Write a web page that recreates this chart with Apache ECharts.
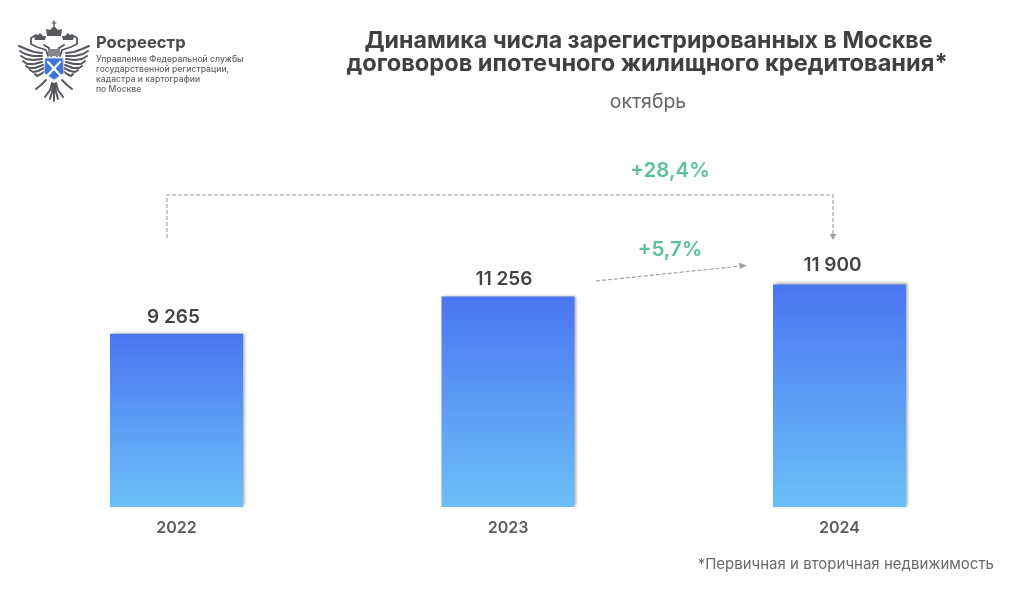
<!DOCTYPE html>
<html><head><meta charset="utf-8">
<style>html,body{margin:0;padding:0;background:#fff}#c{width:1024px;height:597px}</style>
<script src="https://cdn.jsdelivr.net/npm/echarts@6/dist/echarts.min.js"></script>
</head><body><div id="c"></div>
<script>
const categories = ['2022', '2023', '2024'];
const valueLabels = ['9 265', '11 256', '11 900'];
const values = [9265, 11256, 11900];
const titleLines = ['Динамика числа зарегистрированных в Москве', 'договоров ипотечного жилищного кредитования*'];
const subtitle = 'октябрь';
const footnote = '*Первичная и вторичная недвижимость';
const growthTotal = '+28,4%';
const growthYear = '+5,7%';
const orgName = 'Росреестр';
const orgLines = ['Управление Федеральной службы', 'государственной регистрации,', 'кадастра и картографии', 'по Москве'];
const labelShift = [[-3, 0], [-4, -1], [-7, -3]];

const FONT = 'Inter';
const chart = echarts.init(document.getElementById('c'), null, {renderer: 'canvas'});

function txt(x, y, text, size, weight, color, align) {
  return {type: 'text', x, y, silent: true, style: {text, fontSize: size, fontWeight: weight, fontFamily: FONT, fill: color, align: align || 'center', verticalAlign: 'middle'}};
}
function dash(points) {
  return {type: 'polyline', silent: true, shape: {points}, style: {stroke: '#a3a3a3', lineWidth: 1.2, lineDash: [4, 2], fill: null}};
}
function tri(points, fill) {
  return {type: 'polygon', silent: true, shape: {points}, style: {fill: fill || '#a3a3a3'}};
}
const ink = '#55585c';
const AXIS = 108;
function stroke(pts, w, color) {
  return {type: 'polyline', silent: true, shape: {points: pts}, style: {stroke: color || ink, lineWidth: w, fill: null, lineCap: 'round', lineJoin: 'round'}};
}
function both(pts, w) {
  return [stroke(pts, w), stroke(pts.map(p => [AXIS - p[0], p[1]]), w)];
}
function bothFill(pts) {
  return [tri(pts, ink), tri(pts.map(p => [AXIS - p[0], p[1]]), ink)];
}
const emblem = [
  // wing feathers
  ...both([[42, 53], [34, 52], [26, 49], [19, 46]], 2),
  ...both([[42, 56], [33, 56], [25, 54], [20, 51]], 2),
  ...both([[42, 59], [33, 60], [26, 59], [21, 56]], 2),
  ...both([[42, 62], [34, 64], [27, 64], [23, 61]], 2),
  ...both([[43, 65], [35, 68], [29, 68], [26, 66]], 2),
  ...both([[44, 68], [38, 71], [33, 72], [30, 70]], 2),
  ...both([[45, 71], [41, 74], [37, 76], [35, 74]], 2),
  // necks and heads
  ...both([[48, 56], [46, 50], [37, 47], [31, 44], [31, 38], [36, 35], [41, 38]], 1.8),
  ...both([[51, 56], [49, 48], [44, 45]], 2),
  ...bothFill([[35, 40], [45, 40], [46, 36], [43, 36], [40, 33], [37, 36], [34, 36]]),
  // centre crown
  tri([[47, 36], [61, 36], [62, 29], [58, 30], [54, 26], [50, 30], [46, 29]], ink),
  stroke([[54, 26], [54, 21]], 1.4),
  stroke([[52, 23], [56, 23]], 1.2),
  // band between heads
  tri([[48, 49], [60, 49], [60, 56], [48, 56]], '#85888b'),
  // legs and tail
  ...both([[46, 80], [41, 85], [36, 89]], 2),
  ...both([[52, 83], [50, 90], [45, 97]], 2),
  ...both([[53, 84], [52, 92], [50, 99]], 2),
  stroke([[54, 84], [54, 101]], 2),
  // shield
  {type: 'polygon', silent: true, shape: {points: [[45, 58], [63, 58], [64, 73], [54, 80], [44, 73]]}, style: {fill: '#3f74d6', stroke: '#c9d4e4', lineWidth: 1}},
  stroke([[48, 62], [60, 75]], 2.4, '#fff'),
  stroke([[60, 62], [48, 75]], 2.4, '#fff')
];

chart.setOption({
  animation: false,
  backgroundColor: '#fff',
  grid: {left: 10.75, width: 994.5, top: 282.6, height: 224.4, containLabel: false},
  xAxis: {
    type: 'category', data: categories,
    axisLine: {show: false}, axisTick: {show: false},
    axisLabel: {color: '#5c5c5c', fontSize: 16, fontWeight: 600, fontFamily: FONT, margin: 13}
  },
  yAxis: {type: 'value', min: 0, max: 12000, show: false, splitLine: {show: false}},
  series: [{
    type: 'bar',
    data: values.map((value, i) => ({value, label: {offset: labelShift[i]}})),
    barWidth: 133,
    itemStyle: {
      color: new echarts.graphic.LinearGradient(0, 0, 0, 1, [{offset: 0, color: '#4a76f1'}, {offset: 1, color: '#6bc0f8'}]),
      shadowColor: 'rgba(60,60,60,0.45)', shadowBlur: 3, shadowOffsetX: 1.5, shadowOffsetY: -1
    },
    label: {
      show: true, position: 'top', distance: 7,
      formatter: p => valueLabels[p.dataIndex],
      color: '#444', fontSize: 19, fontWeight: 600, fontFamily: FONT
    }
  }],
  graphic: {elements: [
    ...emblem,
    txt(96, 43, orgName, 16.6, 700, '#4a4a4a', 'left'),
    txt(96, 59, orgLines[0], 8.6, 500, '#666', 'left'),
    txt(96, 69, orgLines[1], 8.6, 500, '#666', 'left'),
    txt(96, 79, orgLines[2], 8.6, 500, '#666', 'left'),
    txt(96, 89, orgLines[3], 8.6, 500, '#666', 'left'),
    txt(648.5, 41, titleLines[0], 23.2, 700, '#404040'),
    txt(647, 64, titleLines[1], 23.6, 700, '#404040'),
    txt(648, 102, subtitle, 19.5, 400, '#666'),
    txt(670, 171, growthTotal, 20.5, 600, '#5cc0a0'),
    txt(670, 250, growthYear, 20.5, 600, '#5cc0a0'),
    dash([[167, 238], [167, 195], [833, 195], [833, 235]]),
    tri([[829.5, 234], [836.5, 234], [833, 240]]),
    dash([[596, 281], [741, 266]]),
    tri([[739, 262.5], [747, 265.5], [740, 269]]),
    txt(994, 564, footnote, 15, 400, '#6a6a6a', 'right')
  ]}
});
</script></body></html>
